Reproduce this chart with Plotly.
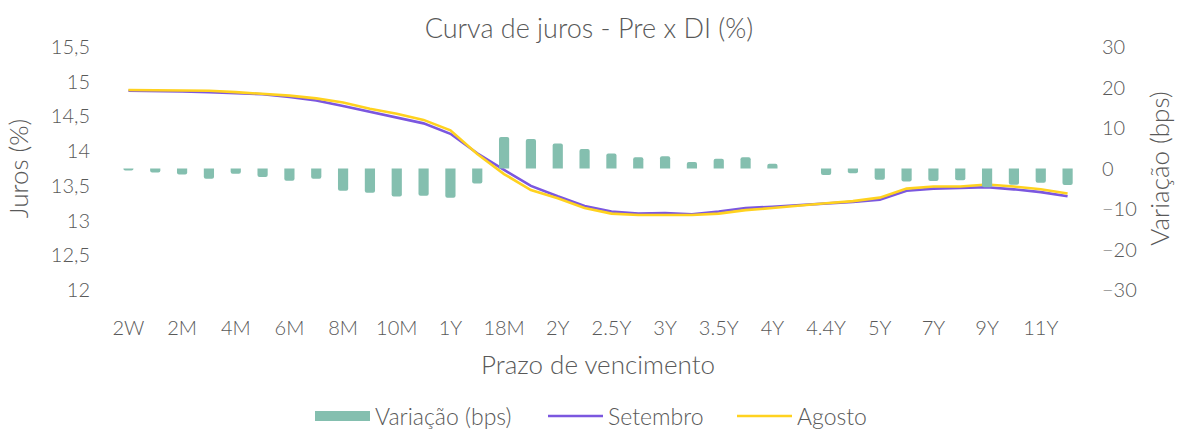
import plotly.graph_objects as go

categories = ["2W", "1M", "2M", "3M", "4M", "5M", "6M", "7M", "8M", "9M", "10M", "11M",
              "1Y", "15M", "18M", "21M", "2Y", "2.25Y", "2.5Y", "2.75Y", "3Y", "3.25Y",
              "3.5Y", "3.75Y", "4Y", "4.2Y", "4.4Y", "4.7Y", "5Y", "6Y", "7Y", "8Y",
              "9Y", "10Y", "11Y", "12Y"]
tick_labels = categories[::2]

setembro = [14.87, 14.87, 14.86, 14.85, 14.84, 14.82, 14.78, 14.73, 14.65, 14.57,
            14.49, 14.40, 14.25, 13.97, 13.73, 13.50, 13.35, 13.21, 13.13, 13.10,
            13.11, 13.09, 13.13, 13.18, 13.20, 13.22, 13.25, 13.27, 13.30, 13.43,
            13.46, 13.47, 13.48, 13.45, 13.41, 13.35]
agosto = [14.88, 14.88, 14.88, 14.87, 14.85, 14.83, 14.80, 14.76, 14.70, 14.61,
          14.54, 14.45, 14.30, 13.96, 13.67, 13.44, 13.32, 13.18, 13.10, 13.08,
          13.08, 13.08, 13.10, 13.15, 13.18, 13.22, 13.25, 13.28, 13.33, 13.46,
          13.49, 13.49, 13.52, 13.49, 13.45, 13.39]
variacao = [-0.5, -1.0, -1.5, -2.5, -1.3, -2.1, -3.0, -2.5, -5.5, -6.0,
            -6.9, -6.7, -7.2, -3.7, 7.8, 7.3, 6.2, 4.8, 3.7, 2.8,
            3.0, 1.6, 2.4, 2.8, 1.2, 0.0, -1.6, -1.2, -2.8, -3.2,
            -3.1, -2.9, -4.6, -4.0, -3.5, -4.1]

FONT = "Lato"
TXT = "#595959"
BAR = "#84BFAF"
PURPLE = "#7B57DF"
YELLOW = "#FFD21F"

fig = go.Figure()
fig.add_trace(go.Bar(x=categories, y=variacao, name="Variação (bps)", yaxis="y2",
                     marker=dict(color=BAR, line=dict(width=0)), showlegend=False))
# legend entry for the bars, drawn as a wide swatch
fig.add_trace(go.Scatter(x=[None], y=[None], name="Variação (bps)", mode="lines",
                         line=dict(color=BAR, width=18), yaxis="y2", legend="legend"))
fig.add_trace(go.Scatter(x=categories, y=setembro, name="Setembro", mode="lines",
                         line=dict(color=PURPLE, width=2.6), legend="legend2"))
fig.add_trace(go.Scatter(x=categories, y=agosto, name="Agosto", mode="lines",
                         line=dict(color=YELLOW, width=2.6), legend="legend3"))

PW = 1178 - 115 - 97
PH = 432 - 47 - 142
def px_x(px):
    return (px - 115) / PW

leg_common = dict(orientation="h", xanchor="left", y=(290 - 416) / PH, yanchor="middle",
                  font=dict(size=23, family=FONT, color=TXT, weight=300),
                  itemwidth=55, bgcolor="rgba(0,0,0,0)", borderwidth=0)

fig.update_layout(
    width=1178, height=432,
    paper_bgcolor="white", plot_bgcolor="white",
    font=dict(family=FONT, color=TXT, size=20, weight=300),
    title=dict(text="Curva de juros - Pre x DI (%)", x=0.5, xanchor="center",
               y=0.935, yanchor="middle", font=dict(size=27, family=FONT, color=TXT, weight=300)),
    margin=dict(l=115, r=97, t=47, b=142, autoexpand=False),
    bargap=0.62,
    barcornerradius=2,
    showlegend=True,
    legend=dict(x=px_x(320 - 10), **leg_common),
    legend2=dict(x=px_x(553 - 10), **leg_common),
    legend3=dict(x=px_x(742 - 10), **leg_common),
    xaxis=dict(type="category", tickmode="array", tickvals=tick_labels, ticktext=tick_labels,
               showgrid=False, showline=False, zeroline=False, ticks="",
               ticklabelstandoff=24, automargin=False,
               title=dict(text="Prazo de vencimento", standoff=17,
                          font=dict(size=26, family=FONT, color=TXT, weight=300))),
    yaxis=dict(range=[12, 15.5], tickvals=[12, 12.5, 13, 13.5, 14, 14.5, 15, 15.5],
               ticktext=["12", "12,5", "13", "13,5", "14", "14,5", "15", "15,5"],
               showgrid=False, showline=False, zeroline=False, ticks="",
               ticklabelstandoff=24, automargin=False,
               title=dict(text="Juros (%)", standoff=14,
                          font=dict(size=26, family=FONT, color=TXT, weight=300))),
    yaxis2=dict(range=[-30, 30], tickvals=[-30, -20, -10, 0, 10, 20, 30],
                overlaying="y", side="right",
                showgrid=False, showline=False, zeroline=False, ticks="",
                ticklabelstandoff=20, automargin=False,
                title=dict(text="Variação (bps)", standoff=14,
                           font=dict(size=26, family=FONT, color=TXT, weight=300))),
)

fig.write_html("out.html", config={"displayModeBar": False},
               post_script="document.body.style.margin='0';document.body.style.overflow='hidden';")
